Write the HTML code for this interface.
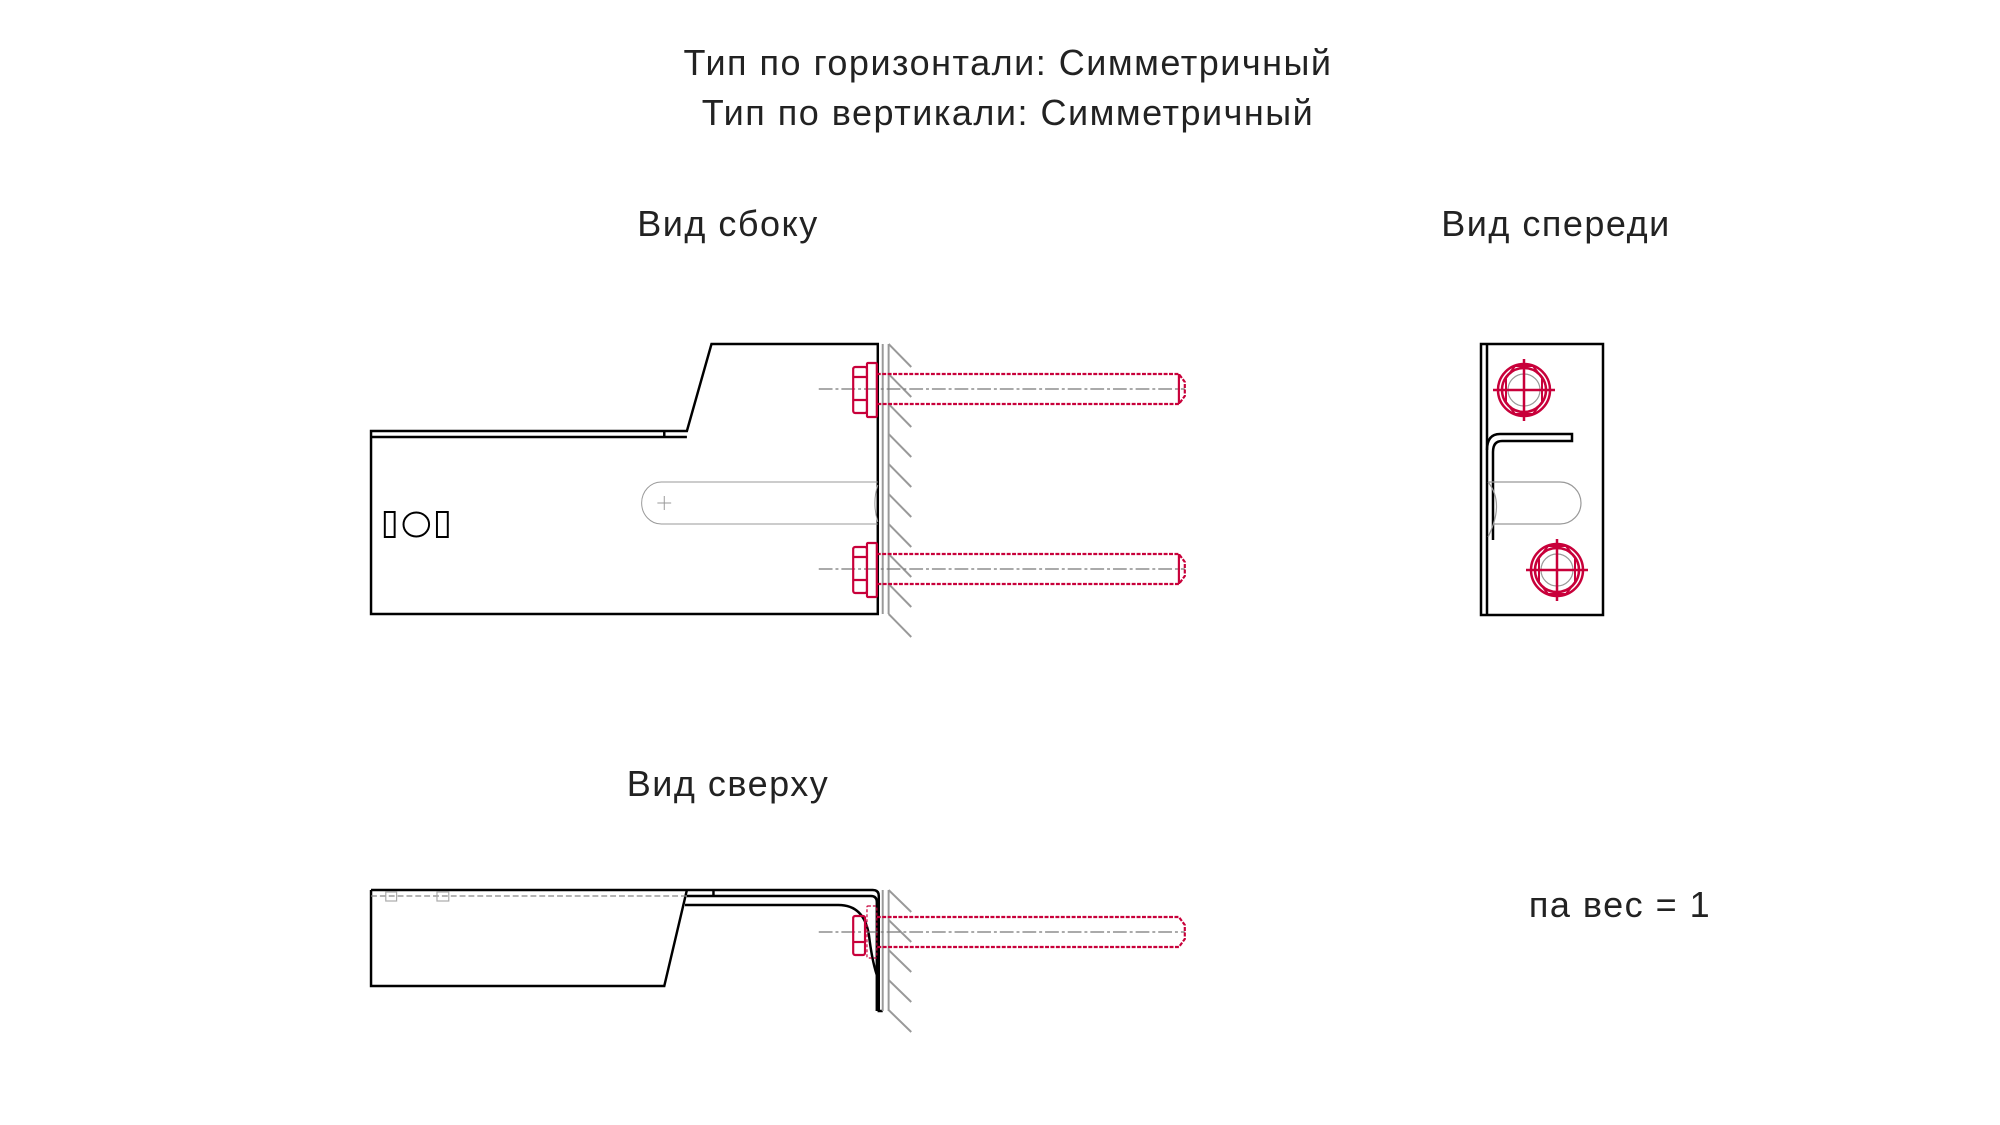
<!DOCTYPE html>
<html><head><meta charset="utf-8"><style>
html,body{margin:0;padding:0;background:#fff;}
svg{display:block}
text{font-family:"Liberation Sans",sans-serif;font-size:36px;fill:#222;text-anchor:middle;letter-spacing:1.5px}
</style></head><body>
<svg width="2000" height="1125" viewBox="0 0 2000 1125" xmlns="http://www.w3.org/2000/svg">
<text x="1008" y="75">Тип по горизонтали: Симметричный</text>
<text x="1008" y="125">Тип по вертикали: Симметричный</text>
<text x="728" y="236">Вид сбоку</text>
<text x="1556" y="236">Вид спереди</text>
<text x="728" y="796">Вид сверху</text>
<text x="1620" y="917">па вес = 1</text>

<g transform="translate(373,0) scale(0.984,1) translate(-373,0)">
<!-- SIDE VIEW -->
<g fill="none" stroke="#000" stroke-width="2.5">
<path d="M371 431 H692 L717 344 H886 V614 H371 Z"/>
<path d="M371 437 H692"/>
<path d="M669 431 V437"/>
<rect x="385" y="512" width="10" height="25" stroke-width="2"/>
<rect x="438" y="512" width="11" height="25" stroke-width="2"/>
<ellipse cx="417" cy="524.5" rx="13" ry="12" stroke-width="2"/>
</g>
<g fill="none" stroke="#999" stroke-width="1">
<path d="M666 482 H886 M666 524 H886 M666 482 A20 21 0 0 0 666 524"/>
<path d="M662 503 H676 M669 496 V510"/>
<path d="M886 485 Q880 503 886 522"/>
</g>
<g stroke="#999" stroke-width="2" fill="none">
<path d="M891 344 V614 M897 344 V614"/>
<path d="M897 344 L920 367 M897 374 L920 397 M897 404 L920 427 M897 434 L920 457 M897 464 L920 487 M897 494 L920 517 M897 524 L920 547 M897 554 L920 577 M897 584 L920 607 M897 614 L920 637"/>
</g>
<g id="bolt">
<path d="M826 389 H1198" stroke="#777" stroke-width="1.2" stroke-dasharray="14 3 3 3" fill="none"/>
<g stroke="#c8003a" stroke-width="2.2" fill="none">
<path d="M885 374 H1192 L1198 382 V396 L1192 404 H885" stroke-dasharray="4 1.5"/>
<path d="M1192 374 V404"/>
<rect x="861" y="367" width="14" height="46" rx="2"/>
<path d="M861 377 H875 M861 400 H875"/>
<rect x="875" y="363" width="10" height="54" rx="1"/>
</g>
</g>
<use href="#bolt" y="180"/>

<!-- TOP VIEW -->
<g fill="none" stroke="#000" stroke-width="2.5">
<path d="M371 890 H881 Q887 890 887 896 V1011 H891"/>
<path d="M371 890 V986 H669 L692 890"/>
<path d="M692 896 H879 Q885 896 885 902 V1011"/>
<path d="M690 905 H846 Q872 905 877 935 Q880 960 885 975"/>
<path d="M719 890 V896"/>
</g>
<path d="M371 896 H692" stroke="#888" stroke-width="1.2" stroke-dasharray="6 3"/>
<g fill="none" stroke="#aaa" stroke-width="1.2"><rect x="386" y="892" width="11" height="9"/><rect x="438" y="892" width="12" height="9"/></g>
<g stroke="#999" stroke-width="2" fill="none">
<path d="M891 890 V1011 M897 890 V1011"/>
<path d="M897 890 L920 912 M897 920 L920 942 M897 950 L920 972 M897 980 L920 1002 M897 1010 L920 1032"/>
</g>
<path d="M826 932 H1198" stroke="#777" stroke-width="1.2" stroke-dasharray="14 3 3 3" fill="none"/>
<g stroke="#c8003a" stroke-width="2.2" fill="none">
<path d="M885 917 H1192 L1198 925 V939 L1192 947 H885" stroke-dasharray="4 1.5"/>
<rect x="861" y="916" width="12" height="39" rx="2"/>
<path d="M861 942 H873"/>
<rect x="875" y="906" width="10" height="52" rx="1" stroke-width="1.2" stroke-dasharray="3 2"/>
</g>
</g>

<!-- FRONT VIEW -->
<g fill="none" stroke="#000" stroke-width="2.5">
<rect x="1481" y="344" width="122" height="271"/>
<path d="M1487 344 V615"/>
<path d="M1487 450 Q1487 434 1500 434 H1572 V441 H1502 Q1493 441 1493 452 V540"/>
</g>
<g fill="none" stroke="#999" stroke-width="1.2">
<path d="M1488 482 H1560 A21 21 0 0 1 1560 524 H1493"/>
<path d="M1488 482 Q1505 503 1488 537"/>
</g>
<g id="fb" fill="none" stroke="#c8003a" stroke-width="2.5">
<circle cx="1524" cy="390" r="26"/>
<circle cx="1524" cy="390" r="22"/>
<path d="M1506 378 L1515 366 H1533 L1542 378 V402 L1533 414 H1515 L1506 402 Z" stroke-width="2"/>
<circle cx="1524" cy="390" r="16" stroke="#999" stroke-width="1.2"/>
<path d="M1493 390 H1555 M1524 359 V421"/>
</g>
<use href="#fb" x="33" y="180"/>
</svg>
</body></html>
